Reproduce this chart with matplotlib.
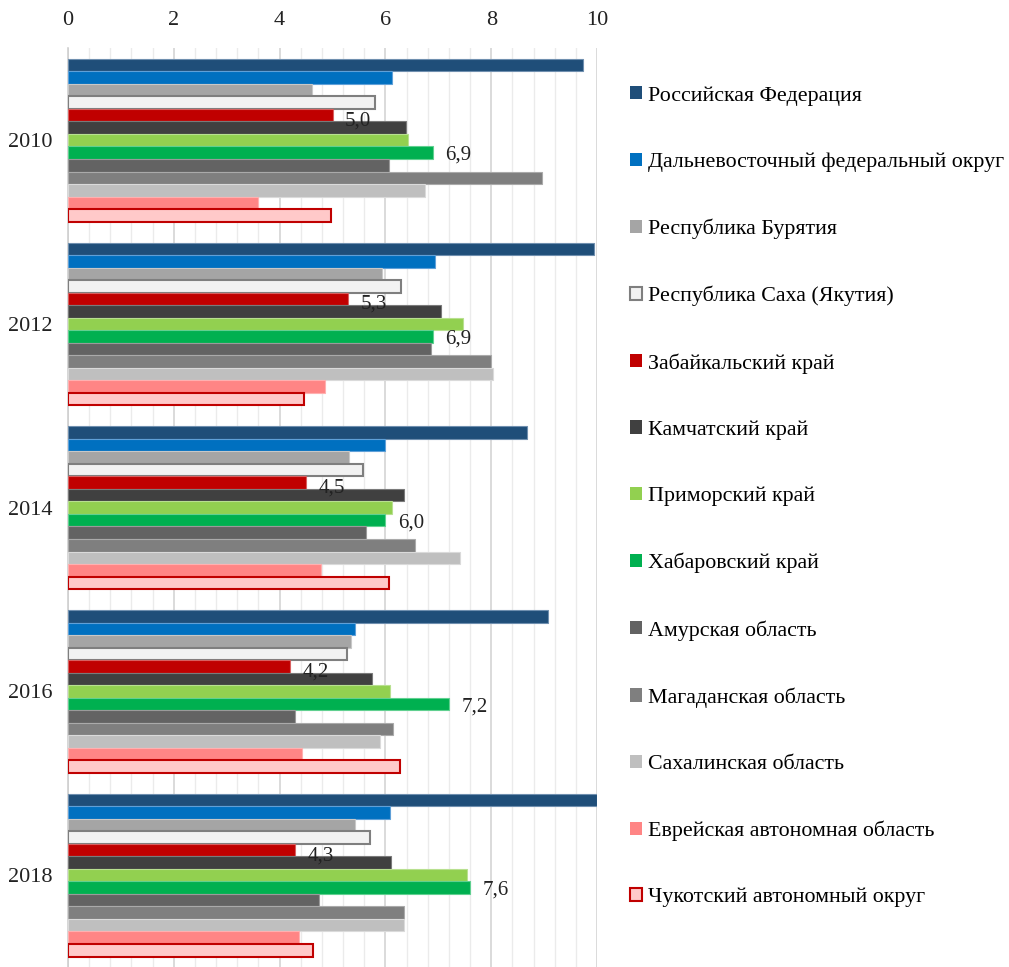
import numpy as np
import matplotlib.pyplot as plt
from matplotlib.patches import Patch

plt.rcParams['font.family'] = ['Liberation Serif', 'DejaVu Serif']

years = ['2010', '2012', '2014', '2016', '2018']

regions = ['Российская Федерация', 'Дальневосточный федеральный округ', 'Республика Бурятия',
           'Республика Саха (Якутия)', 'Забайкальский край', 'Камчатский край', 'Приморский край',
           'Хабаровский край', 'Амурская область', 'Магаданская область', 'Сахалинская область',
           'Еврейская автономная область', 'Чукотский автономный округ']

# values per region, one per year (2010..2018)
rf = [9.73, 9.95, 8.68, 9.08, 10.0]
dfo = [6.12, 6.93, 5.99, 5.42, 6.09]
buryatia = [4.61, 5.94, 5.31, 5.35, 5.43]
sakha = [5.80, 6.29, 5.58, 5.27, 5.70]
zabaikalsky = [5.0, 5.3, 4.5, 4.2, 4.3]
kamchatka = [6.39, 7.05, 6.36, 5.74, 6.11]
primorsky = [6.42, 7.46, 6.12, 6.08, 7.54]
khabarovsk = [6.9, 6.9, 6.0, 7.2, 7.6]
amur = [6.07, 6.87, 5.64, 4.30, 4.74]
magadan = [8.96, 7.99, 6.56, 6.14, 6.36]
sakhalin = [6.75, 8.03, 7.41, 5.89, 6.35]
jewish = [3.60, 4.85, 4.79, 4.43, 4.37]
chukotka = [4.98, 4.46, 6.06, 6.27, 4.63]

series = [rf, dfo, buryatia, sakha, zabaikalsky, kamchatka, primorsky,
          khabarovsk, amur, magadan, sakhalin, jewish, chukotka]

fills = ['#1F4E79', '#0070C0', '#A5A5A5', '#F2F2F2', '#C00000', '#404040', '#92D050',
         '#00B050', '#636363', '#7F7F7F', '#BFBFBF', '#FF8585', '#FFC9C9']
edges = ['#6F8FAF', '#5FA0D8', '#C8C8C8', '#7F7F7F', '#D86060', '#7A7A7A', '#B8E090',
         '#60D090', '#9A9A9A', '#AAAAAA', '#DADADA', '#FFB0B0', '#C00000']
edge_w = [0.8] * 13
edge_w[3] = 1.5
edge_w[12] = 1.5

fig = plt.figure(figsize=(10.09, 9.67), dpi=100)
ax = fig.add_axes([0.0674, 0.0, 0.5243, 0.950])

n = len(series)
group_w = 0.886
h = group_w / n
y_base = np.arange(len(years))

for j, vals in enumerate(series):
    ypos = y_base - group_w / 2 + (j + 0.5) * h
    ax.barh(ypos, vals, height=h, color=fills[j], edgecolor=edges[j],
            linewidth=edge_w[j], zorder=3)
    # data labels only for two regions
    if j in (4, 7):
        dy = -4 if j == 4 else -2
        for y, v in zip(ypos, vals):
            ax.annotate(f'{v:.1f}'.replace('.', ','), (v, y), xytext=(9, dy),
                        textcoords='offset points', va='center', ha='left',
                        fontsize=15, color='#222222', zorder=5)

ax.set_xlim(0, 10)
ax.set_ylim(len(years) - 0.5, -0.5)
ax.set_yticks(y_base)
ax.set_yticklabels(years)
ax.set_xticks(np.arange(0, 10.1, 2))
ax.set_xticks(np.arange(0, 10.01, 0.4), minor=True)
ax.xaxis.tick_top()
ax.tick_params(axis='both', which='both', length=0, labelsize=16, colors='#222222')
ax.tick_params(axis='x', pad=13)
ax.tick_params(axis='y', pad=11)
ax.grid(axis='x', which='major', color='#D4D4D4', linewidth=1.2, zorder=0)
ax.grid(axis='x', which='minor', color='#EBEBEB', linewidth=1.0, zorder=0)
for side in ['top', 'right', 'bottom']:
    ax.spines[side].set_visible(False)
ax.spines['left'].set_color('#D0D0D0')
ax.spines['left'].set_linewidth(1.2)

handles = [Patch(facecolor=fills[j], edgecolor=edges[j] if j in (3, 12) else fills[j],
                 linewidth=1.5 if j in (3, 12) else 0) for j in range(n)]
fig.legend(handles, regions, loc='upper left', bbox_to_anchor=(0.616, 0.92),
           frameon=False, fontsize=15.8, handlelength=0.55, handleheight=0.55,
           handletextpad=0.25, labelspacing=2.13, borderaxespad=0)

fig.savefig('out.png', dpi=100)
